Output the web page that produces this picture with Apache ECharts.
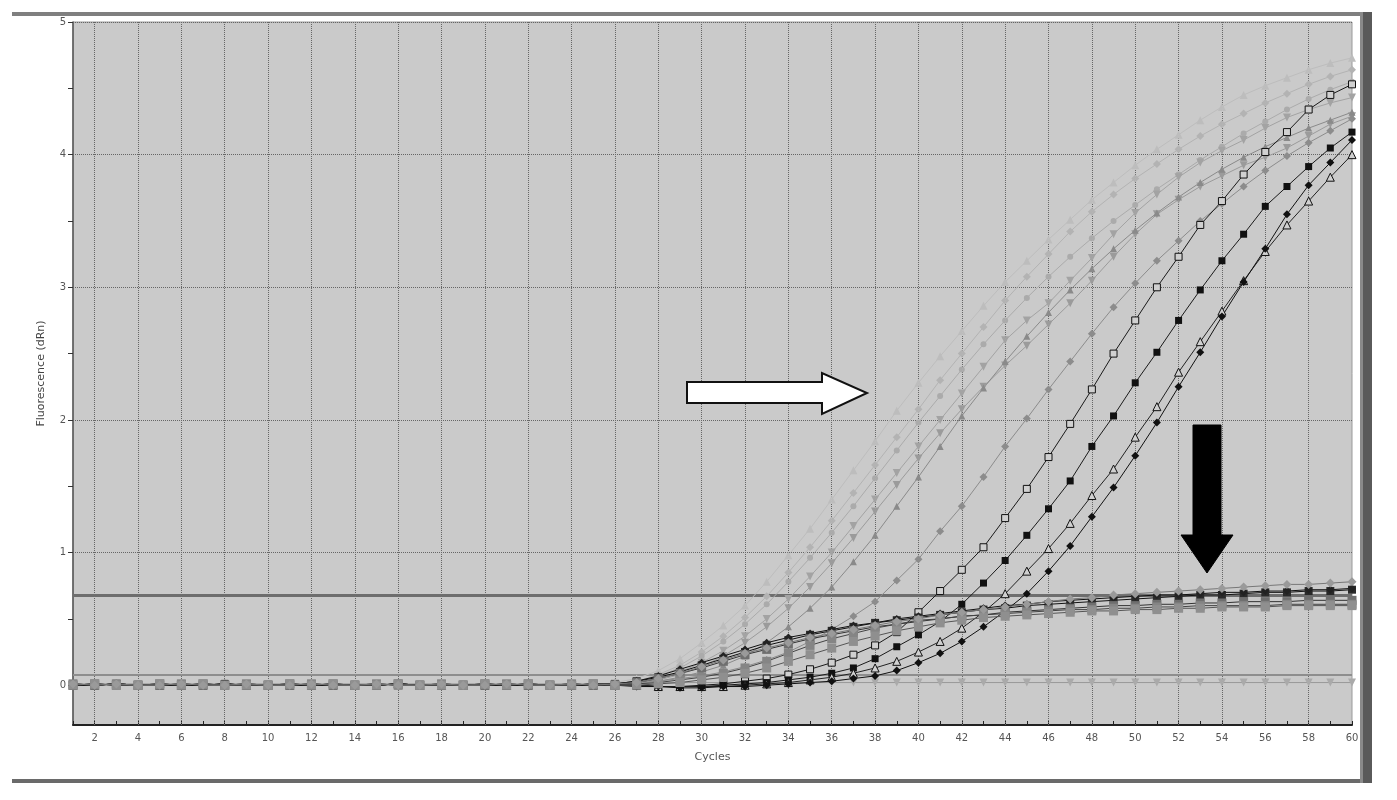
<!DOCTYPE html>
<html>
<head>
<meta charset="utf-8">
<script src="https://cdn.jsdelivr.net/npm/echarts@6/dist/echarts.min.js"></script>
<style>
html,body{margin:0;padding:0;background:#fff;}
#chart{width:1397px;height:800px;}
</style>
</head>
<body>
<div id="chart"></div>
<script>
// ---------- data ----------
const cycles = [1,2,3,4,5,6,7,8,9,10,11,12,13,14,15,16,17,18,19,20,21,22,23,24,25,26,27,28,29,30,31,32,33,34,35,36,37,38,39,40,41,42,43,44,45,46,47,48,49,50,51,52,53,54,55,56,57,58,59,60];
const xTickLabels = [2,4,6,8,10,12,14,16,18,20,22,24,26,28,30,32,34,36,38,40,42,44,46,48,50,52,54,56,58,60];
const yTickLabels = [0,1,2,3,4,5];
const yMinorTicks = [0,0.5,1,1.5,2,2.5,3,3.5,4,4.5,5];
const xGridLines = [2,4,6,8,10,12,14,16,18,20,22,24,26,28,30,32,34,36,38,40,42,44,46,48,50,52,54,56,58];
const yGridLines = [1,2,3,4,5];
const thresholds = [0.684, 0.077];

// early-amplifying (light gray) curves
const A1 = [0.01,0,0.01,0,0,0.01,0,0,0.01,0,0,0.01,0,0,0.01,0,0,0.01,0,0,0.01,0,0,0.01,0, 0.02,0.05,0.11,0.2,0.32,0.45,0.6,0.78,0.98,1.18,1.4,1.62,1.84,2.07,2.28,2.48,2.67,2.86,3.04,3.2,3.36,3.51,3.66,3.79,3.92,4.04,4.15,4.26,4.36,4.45,4.52,4.58,4.64,4.69,4.73];
const A2 = [0,0.01,0,0,0.01,0,0.01,0,0,0,0.01,0,0.01,0,0,0.01,0,0,0,0.01,0,0.01,0,0,0.01, 0.01,0.03,0.08,0.15,0.25,0.37,0.51,0.67,0.85,1.04,1.24,1.45,1.66,1.87,2.08,2.3,2.5,2.7,2.9,3.08,3.25,3.42,3.57,3.7,3.82,3.93,4.04,4.14,4.23,4.31,4.39,4.46,4.53,4.59,4.64];
const A3 = [0.01,0,0.01,0,0,0.01,0,0,0.01,0,0,0.01,0,0,0.01,0,0,0.01,0,0,0.01,0,0,0.01,0, 0.01,0.03,0.07,0.13,0.22,0.33,0.46,0.61,0.78,0.96,1.15,1.35,1.56,1.77,1.98,2.18,2.38,2.57,2.75,2.92,3.08,3.23,3.37,3.5,3.62,3.74,3.85,3.96,4.06,4.16,4.25,4.34,4.42,4.49,4.55];
const A4 = [0,0.01,0,0,0.01,0,0.01,0,0,0,0.01,0,0.01,0,0,0.01,0,0,0,0.01,0,0.01,0,0,0.01, 0.01,0.02,0.05,0.1,0.17,0.26,0.37,0.5,0.65,0.82,1.0,1.2,1.4,1.6,1.8,2.0,2.2,2.4,2.6,2.75,2.88,3.05,3.22,3.4,3.56,3.7,3.83,3.94,4.03,4.11,4.2,4.28,4.34,4.39,4.43];
const A5 = [0.01,0,0.01,0,0,0.01,0,0,0.01,0,0,0.01,0,0,0.01,0,0,0.01,0,0,0.01,0,0,0.01,0, 0,0.02,0.04,0.08,0.14,0.22,0.32,0.44,0.58,0.74,0.92,1.11,1.31,1.51,1.71,1.9,2.08,2.25,2.41,2.56,2.72,2.88,3.05,3.23,3.4,3.55,3.66,3.76,3.84,3.92,3.98,4.05,4.14,4.23,4.29];
const A6 = [0,0.01,0,0,0.01,0,0.01,0,0,0,0.01,0,0.01,0,0,0.01,0,0,0,0.01,0,0.01,0,0,0.01, 0,0.01,0.03,0.06,0.1,0.15,0.22,0.32,0.44,0.58,0.74,0.93,1.13,1.35,1.57,1.8,2.03,2.24,2.44,2.63,2.81,2.98,3.14,3.29,3.43,3.56,3.68,3.79,3.89,3.98,4.06,4.13,4.2,4.26,4.32];
// medium gray diamond curve
const B1 = [0.01,0,0.01,0,0,0.01,0,0,0.01,0,0,0.01,0,0,0.01,0,0,0.01,0,0,0.01,0,0,0.01,0, 0.01,0.02,0.03,0.05,0.07,0.1,0.14,0.19,0.25,0.33,0.42,0.52,0.63,0.79,0.95,1.16,1.35,1.57,1.8,2.01,2.23,2.44,2.65,2.85,3.03,3.2,3.35,3.5,3.63,3.76,3.88,3.99,4.09,4.18,4.27];
// late (black) curves
const C1 = [0,0,0.01,0,0,0,0,0.01,0,0,0,0,0,0,0,0.01,0,0,0,0,0,0,0,0,0, 0,0,-0.01,-0.01,0,0.01,0.03,0.05,0.08,0.12,0.17,0.23,0.3,0.4,0.55,0.71,0.87,1.04,1.26,1.48,1.72,1.97,2.23,2.5,2.75,3.0,3.23,3.47,3.65,3.85,4.02,4.17,4.34,4.45,4.53];
const C2 = [0,0,0.01,0,0,0,0,0.01,0,0,0,0,0,0,0,0.01,0,0,0,0,0,0,0,0,0, 0,0,-0.01,-0.01,-0.01,0,0.01,0.02,0.04,0.06,0.09,0.13,0.2,0.29,0.38,0.48,0.61,0.77,0.94,1.13,1.33,1.54,1.8,2.03,2.28,2.51,2.75,2.98,3.2,3.4,3.61,3.76,3.91,4.05,4.17];
const C3 = [0,0,0.01,0,0,0,0,0.01,0,0,0,0,0,0,0,0.01,0,0,0,0,0,0,0,0,0, 0,0,-0.01,-0.01,-0.01,-0.01,0,0.01,0.02,0.04,0.06,0.09,0.13,0.18,0.25,0.33,0.43,0.55,0.69,0.86,1.03,1.22,1.43,1.63,1.87,2.1,2.36,2.59,2.82,3.05,3.27,3.47,3.65,3.83,4.0];
const C4 = [0,0,0.01,0,0,0,0,0.01,0,0,0,0,0,0,0,0.01,0,0,0,0,0,0,0,0,0, 0,-0.01,-0.01,-0.02,-0.02,-0.01,-0.01,0,0.01,0.02,0.03,0.05,0.07,0.11,0.17,0.24,0.33,0.44,0.56,0.69,0.86,1.05,1.27,1.49,1.73,1.98,2.25,2.51,2.78,3.04,3.29,3.55,3.77,3.94,4.11];
// low plateau curves
const D1 = [0.01,0,0.01,0,0,0.01,0,0,0.01,0,0,0.01,0,0,0.01,0,0,0.01,0,0,0.01,0,0,0.01,0, 0.01,0.03,0.06,0.1,0.15,0.2,0.25,0.3,0.34,0.38,0.41,0.44,0.47,0.49,0.51,0.53,0.55,0.57,0.58,0.6,0.61,0.62,0.63,0.64,0.65,0.66,0.67,0.68,0.68,0.69,0.7,0.7,0.71,0.71,0.72];
const D2 = [0,0.01,0,0,0.01,0,0.01,0,0,0,0.01,0,0.01,0,0,0.01,0,0,0,0.01,0,0.01,0,0,0.01, 0,0.02,0.05,0.09,0.13,0.18,0.23,0.27,0.31,0.35,0.38,0.41,0.44,0.46,0.48,0.5,0.52,0.53,0.55,0.56,0.57,0.58,0.59,0.6,0.6,0.61,0.61,0.62,0.62,0.63,0.63,0.63,0.64,0.64,0.64];
const D3 = [0.01,0,0.01,0,0,0.01,0,0,0.01,0,0,0.01,0,0,0.01,0,0,0.01,0,0,0.01,0,0,0.01,0, 0,0.01,0.02,0.04,0.06,0.09,0.13,0.18,0.24,0.3,0.35,0.39,0.43,0.46,0.49,0.5,0.52,0.53,0.54,0.55,0.56,0.57,0.57,0.58,0.58,0.59,0.59,0.6,0.6,0.6,0.6,0.61,0.61,0.61,0.61];
const D4 = [0,0.01,0,0,0.01,0,0.01,0,0,0,0.01,0,0.01,0,0,0.01,0,0,0,0.01,0,0.01,0,0,0.01, 0.01,0.03,0.07,0.12,0.17,0.22,0.27,0.32,0.36,0.39,0.42,0.45,0.47,0.5,0.52,0.54,0.56,0.58,0.6,0.61,0.63,0.64,0.65,0.66,0.67,0.68,0.68,0.69,0.7,0.7,0.71,0.71,0.72,0.72,0.73];
const D5 = [0.01,0,0.01,0,0,0.01,0,0,0.01,0,0,0.01,0,0,0.01,0,0,0.01,0,0,0.01,0,0,0.01,0, 0.01,0.02,0.05,0.09,0.14,0.19,0.24,0.28,0.32,0.36,0.39,0.42,0.45,0.48,0.5,0.53,0.55,0.57,0.59,0.61,0.63,0.65,0.66,0.68,0.69,0.7,0.71,0.72,0.73,0.74,0.75,0.76,0.76,0.77,0.78];
const D6 = [0,0.01,0,0,0.01,0,0.01,0,0,0,0.01,0,0.01,0,0,0.01,0,0,0,0.01,0,0.01,0,0,0.01, 0,0,0.01,0.02,0.04,0.06,0.09,0.13,0.18,0.23,0.28,0.33,0.37,0.41,0.44,0.47,0.49,0.51,0.52,0.53,0.54,0.55,0.56,0.56,0.57,0.57,0.58,0.58,0.59,0.59,0.59,0.6,0.6,0.6,0.6];
// flat (negative) curve
const E1 = [0.01,0.01,0.01,0.01,0.01,0.01,0.01,0.01,0.01,0.01,0.01,0.01,0.01,0.01,0.01,0.01,0.01,0.01,0.01,0.01,0.01,0.01,0.01,0.01,0.01, 0.01,0.01,0.02,0.02,0.02,0.02,0.02,0.02,0.02,0.02,0.02,0.02,0.02,0.02,0.02,0.02,0.02,0.02,0.02,0.02,0.02,0.02,0.02,0.02,0.02,0.02,0.02,0.02,0.02,0.02,0.02,0.02,0.02,0.02,0.02];

// ---------- chart ----------
const chart = echarts.init(document.getElementById('chart'), null, {renderer: 'canvas'});
const pair = arr => cycles.map((c, i) => [c, arr[i]]);

function mk(name, arr, opt) {
  return {
    name: name,
    type: 'line',
    data: pair(arr),
    symbol: opt.symbol,
    symbolSize: opt.size || 8,
    symbolRotate: opt.rotate || 0,
    showAllSymbol: true,
    silent: true,
    animation: false,
    lineStyle: {color: opt.line, width: opt.lw || 1},
    itemStyle: {color: opt.fill, borderColor: opt.border || opt.fill, borderWidth: opt.bw || 0},
    z: opt.z || 2
  };
}

const series = [
  {
    type: 'line', data: [], silent: true, animation: false,
    markLine: {
      z: 1, silent: true, animation: false, symbol: ['none', 'none'],
      label: {show: false},
      lineStyle: {type: 'dotted', color: '#666', width: 1},
      data: xGridLines.map(v => ({xAxis: v})).concat(yGridLines.map(v => ({yAxis: v})))
    }
  },
  {
    type: 'line', data: [], silent: true, animation: false,
    markLine: {
      z: 1, silent: true, animation: false, symbol: ['none', 'none'],
      label: {show: false},
      data: [
        {yAxis: thresholds[0], lineStyle: {type: 'solid', color: '#6e6e6e', width: 3}},
        {yAxis: thresholds[1], lineStyle: {type: 'solid', color: '#8e8e8e', width: 2}}
      ]
    }
  },
  mk('A1', A1, {symbol: 'triangle', line: '#bdbdbd', fill: '#bdbdbd', size: 8}),
  mk('A2', A2, {symbol: 'diamond', line: '#b3b3b3', fill: '#b3b3b3', size: 8}),
  mk('A3', A3, {symbol: 'circle', line: '#ababab', fill: '#ababab', size: 6}),
  mk('A4', A4, {symbol: 'triangle', rotate: 180, line: '#a3a3a3', fill: '#a3a3a3', size: 8}),
  mk('A5', A5, {symbol: 'triangle', rotate: 180, line: '#9b9b9b', fill: '#9b9b9b', size: 8}),
  mk('A6', A6, {symbol: 'triangle', line: '#8a8a8a', fill: '#8a8a8a', size: 7}),
  mk('B1', B1, {symbol: 'diamond', line: '#8c8c8c', fill: '#8c8c8c', size: 8}),
  mk('E1', E1, {symbol: 'triangle', rotate: 180, line: '#999999', fill: '#aaaaaa', size: 8}),
  mk('C1', C1, {symbol: 'rect', line: '#1a1a1a', fill: '#d0d0d0', border: '#111', bw: 1, size: 7}),
  mk('C2', C2, {symbol: 'rect', line: '#1a1a1a', fill: '#111', size: 7}),
  mk('C3', C3, {symbol: 'triangle', line: '#222', fill: '#d0d0d0', border: '#111', bw: 1, size: 8}),
  mk('C4', C4, {symbol: 'diamond', line: '#111', fill: '#111', size: 8}),
  mk('D1', D1, {symbol: 'rect', line: '#111', fill: '#2a2a2a', size: 8}),
  mk('D4', D4, {symbol: 'diamond', line: '#111', fill: '#222', size: 8}),
  mk('D2', D2, {symbol: 'rect', line: '#333', fill: '#6f6f6f', size: 9}),
  mk('D3', D3, {symbol: 'rect', line: '#444', fill: '#858585', size: 9}),
  mk('D6', D6, {symbol: 'rect', line: '#555', fill: '#8f8f8f', size: 9}),
  mk('D5', D5, {symbol: 'diamond', line: '#777', fill: '#9a9a9a', size: 9})
];

const labelFont = 'DejaVu Sans, Liberation Sans, sans-serif';

chart.setOption({
  animation: false,
  backgroundColor: '#ffffff',
  textStyle: {fontFamily: labelFont},
  grid: {
    left: 73, right: 45, top: 22, bottom: 75,
    show: true, backgroundColor: '#cacaca', borderColor: '#9a9a9a', borderWidth: 1
  },
  xAxis: {
    type: 'value', min: 1, max: 60,
    name: 'Cycles', nameLocation: 'middle', nameGap: 27,
    nameTextStyle: {fontSize: 11, color: '#555', fontFamily: labelFont},
    axisLine: {show: true, onZero: false, lineStyle: {color: '#222', width: 2}},
    axisTick: {show: true, inside: true, length: 4, customValues: cycles, lineStyle: {color: '#222'}},
    axisLabel: {customValues: xTickLabels, fontSize: 10, color: '#555', margin: 8, fontFamily: labelFont},
    splitLine: {show: false}
  },
  yAxis: {
    type: 'value', min: -0.3, max: 5,
    name: 'Fluorescence (dRn)', nameLocation: 'middle', nameGap: 26, nameRotate: 90,
    nameTextStyle: {fontSize: 11, color: '#444', fontFamily: labelFont},
    axisLine: {show: true, onZero: false, lineStyle: {color: '#555', width: 1.5}},
    axisTick: {show: true, length: 5, customValues: yMinorTicks, lineStyle: {color: '#333'}},
    axisLabel: {customValues: yTickLabels, fontSize: 10, color: '#555', margin: 7, fontFamily: labelFont},
    splitLine: {show: false}
  },
  series: series,
  graphic: [
    // outer frame
    {type: 'rect', silent: true, z: 100, shape: {x: 12, y: 12, width: 1360, height: 4}, style: {fill: '#7f7f7f'}},
    {type: 'rect', silent: true, z: 100, shape: {x: 12, y: 779, width: 1360, height: 4}, style: {fill: '#6a6a6a'}},
    {type: 'rect', silent: true, z: 100, shape: {x: 1360, y: 12, width: 12, height: 771}, style: {fill: '#5a5a5a'}},
    {type: 'rect', silent: true, z: 100, shape: {x: 1360, y: 12, width: 3, height: 771}, style: {fill: '#8a8a8a'}},
    // hollow right arrow
    {type: 'polygon', silent: true, z: 100,
      shape: {points: [[687,382],[822,382],[822,373],[867,393],[822,414],[822,403],[687,403]]},
      style: {fill: '#ffffff', stroke: '#111', lineWidth: 2}},
    // solid down arrow
    {type: 'polygon', silent: true, z: 100,
      shape: {points: [[1193,425],[1221,425],[1221,535],[1233,535],[1207,573],[1181,535],[1193,535]]},
      style: {fill: '#000', stroke: '#000', lineWidth: 1}}
  ]
});
</script>
</body>
</html>
